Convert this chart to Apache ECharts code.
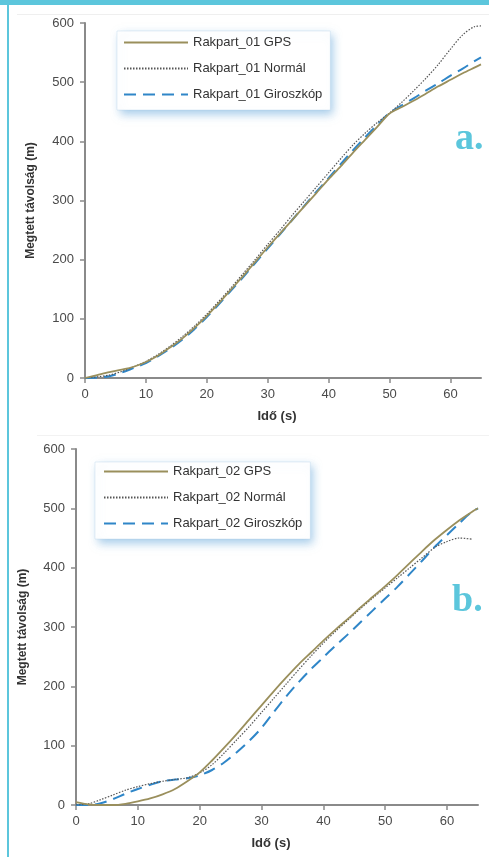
<!DOCTYPE html>
<html>
<head>
<meta charset="utf-8">
<script src="https://cdn.jsdelivr.net/npm/echarts@6/dist/echarts.min.js"></script>
<style>
  html, body { margin: 0; padding: 0; background: #fff; }
  #chart { width: 489px; height: 859px; }
</style>
</head>
<body>
<div id="chart"></div>
<script>
// Time samples (s), shared by every series
const times = [0,2,4,6,8,10,12,14,16,18,20,22,24,26,28,30,32,34,36,38,40,42,44,46,48,50,52,54,56,58,60,62,64,65];

// Rakpart_01 — travelled distance (m)
const gps01  = [0,5,10,14,19,27,38,52,67,85,105,127,150,173,197,221,244,267,290,313,336,358,381,403,425,447,458,469,481,493,504,515,525,530];
const norm01 = [0,2,5,11,19,28,40,54,70,88,108,130,153,177,201,226,250,275,299,323,347,371,394,414,432,448,466,486,507,530,556,580,594,595];
const gyro01 = [0,1,3,9,17,25,37,50,65,83,103,125,148,171,195,219,243,267,291,315,338,362,385,407,428,448,461,473,486,498,511,523,536,542];

// Rakpart_02 — travelled distance (m)
const gps02  = [5,1,0,0,2,6,11,18,27,40,55,75,97,120,144,168,192,215,237,257,277,296,314,333,351,369,388,408,428,447,464,480,494,500];
const norm02 = [0,2,9,17,25,31,36,40,43,46,54,68,88,110,132,156,180,204,228,251,273,293,312,331,349,366,383,400,417,434,444,450,448,null];
const gyro02 = [0,0,3,10,19,27,34,40,43,45,50,59,72,89,108,130,157,183,207,229,249,269,288,308,328,348,368,390,412,435,455,475,494,500];

const names01 = ['Rakpart_01 GPS', 'Rakpart_01 Normál', 'Rakpart_01 Giroszkóp'];
const names02 = ['Rakpart_02 GPS', 'Rakpart_02 Normál', 'Rakpart_02 Giroszkóp'];

const xTicks = [0,10,20,30,40,50,60];
const yTicks = [0,100,200,300,400,500,600];

const FONT = '"Liberation Sans", Arial, sans-serif';
const AXIS_COLOR = '#8a8a8a';
const LABEL_COLOR = '#4a4a4a';
const ACCENT = '#5cc6dc';

const pair = (vals) => times.map((t, i) => [t, vals[i]]);

const styles = [
  { color: '#9a8f5c', width: 1.8, type: 'solid' },
  { color: '#555555', width: 1.2, type: [1.5, 1.5] },
  { color: '#2f86c8', width: 2, type: [12, 7] }
];

function makeSeries(names, data, axisIndex) {
  return names.map((n, i) => ({
    name: n,
    type: 'line',
    xAxisIndex: axisIndex,
    yAxisIndex: axisIndex,
    data: pair(data[i]),
    smooth: 0.3,
    showSymbol: false,
    symbol: 'none',
    connectNulls: false,
    lineStyle: { color: styles[i].color, width: styles[i].width, type: styles[i].type },
    itemStyle: { color: styles[i].color },
    z: 3 - i
  }));
}

function xAxis(gridIndex) {
  return {
    gridIndex, type: 'value', min: 0, max: 65, interval: 10,
    name: 'Idő (s)', nameLocation: 'middle', nameGap: 32,
    nameTextStyle: { fontFamily: FONT, fontSize: 13, fontWeight: 'bold', color: '#333', padding: [0, 12, 0, 0] },
    axisLine: { show: true, lineStyle: { color: AXIS_COLOR, width: 2 } },
    axisTick: { show: true, length: 5, customValues: xTicks, lineStyle: { color: AXIS_COLOR, width: 1.5 } },
    axisLabel: { customValues: xTicks, fontFamily: FONT, fontSize: 13, color: LABEL_COLOR, margin: 10 },
    splitLine: { show: false }
  };
}

function yAxis(gridIndex, gap) {
  return {
    gridIndex, type: 'value', min: 0, max: 600, interval: 100,
    name: 'Megtett távolság (m)', nameLocation: 'middle', nameGap: gap, nameRotate: 90,
    nameTextStyle: { fontFamily: FONT, fontSize: 12, fontWeight: 'bold', color: '#333' },
    axisLine: { show: true, lineStyle: { color: AXIS_COLOR, width: 2 } },
    axisTick: { show: true, length: 5, customValues: yTicks, lineStyle: { color: AXIS_COLOR, width: 1.5 } },
    axisLabel: { customValues: yTicks, fontFamily: FONT, fontSize: 13, color: LABEL_COLOR, margin: 11 },
    splitLine: { show: false }
  };
}

function legend(names, left, top, padding) {
  return {
    data: names, orient: 'vertical', left, top, padding,
    itemWidth: 64, itemHeight: 14, itemGap: 13,
    itemStyle: { opacity: 0, borderWidth: 0 },
    backgroundColor: '#fff',
    borderColor: 'rgba(170,205,230,0.6)', borderWidth: 0.5,
    shadowColor: 'rgba(90,160,215,0.55)', shadowBlur: 9, shadowOffsetX: 3, shadowOffsetY: 4,
    textStyle: { fontFamily: FONT, fontSize: 13, color: '#333' },
    selectedMode: false
  };
}

const chart = echarts.init(document.getElementById('chart'), null, { renderer: 'canvas' });

chart.setOption({
  animation: false,
  backgroundColor: '#fff',
  grid: [
    { left: 85, top: 23, width: 396, height: 355 },
    { left: 76, top: 449, width: 402, height: 356 }
  ],
  xAxis: [xAxis(0), xAxis(1)],
  yAxis: [yAxis(0, 48), yAxis(1, 47)],
  legend: [
    legend(names01, 117, 31, [5, 8, 9, 6]),
    legend(names02, 95, 462, [3, 8, 9, 8])
  ],
  series: [
    ...makeSeries(names01, [gps01, norm01, gyro01], 0),
    ...makeSeries(names02, [gps02, norm02, gyro02], 1)
  ],
  graphic: [
    { type: 'rect', shape: { x: 0, y: 0, width: 489, height: 5 }, style: { fill: ACCENT }, silent: true },
    { type: 'rect', shape: { x: 7, y: 0, width: 2, height: 857 }, style: { fill: ACCENT }, silent: true },
    { type: 'line', shape: { x1: 17, y1: 14.5, x2: 489, y2: 14.5 }, style: { stroke: '#efefef', lineWidth: 1 }, silent: true },
    { type: 'line', shape: { x1: 37, y1: 435.5, x2: 489, y2: 435.5 }, style: { stroke: '#f2f2f2', lineWidth: 1 }, silent: true },
    { type: 'text', left: 455, top: 120, style: { text: 'a.', font: 'bold 38px "Liberation Serif", serif', fill: ACCENT } },
    { type: 'text', left: 452, top: 582, style: { text: 'b.', font: 'bold 38px "Liberation Serif", serif', fill: ACCENT } }
  ]
});
</script>
</body>
</html>
